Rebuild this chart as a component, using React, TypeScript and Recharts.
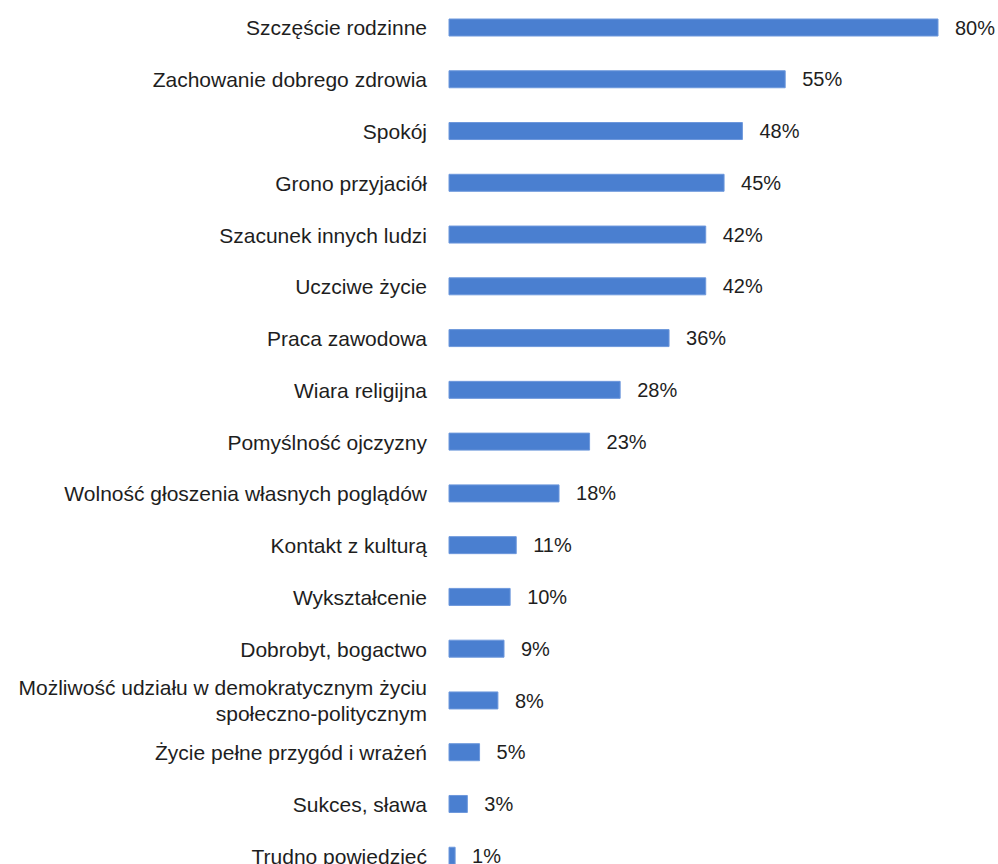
import { BarChart, Bar, XAxis, YAxis, LabelList } from "recharts"

const categories = [
  "Szczęście rodzinne",
  "Zachowanie dobrego zdrowia",
  "Spokój",
  "Grono przyjaciół",
  "Szacunek innych ludzi",
  "Uczciwe życie",
  "Praca zawodowa",
  "Wiara religijna",
  "Pomyślność ojczyzny",
  "Wolność głoszenia własnych poglądów",
  "Kontakt z kulturą",
  "Wykształcenie",
  "Dobrobyt, bogactwo",
  "Możliwość udziału w demokratycznym życiu\nspołeczno-politycznym",
  "Życie pełne przygód i wrażeń",
  "Sukces, sława",
  "Trudno powiedzieć",
]
const values = [80, 55, 48, 45, 42, 42, 36, 28, 23, 18, 11, 10, 9, 8, 5, 3, 1]

const data = categories.map((name, i) => ({ name, value: values[i] }))

const FONT = "'Liberation Sans', Arial, sans-serif"
const TEXT = "#1e1e1e"

function CategoryTick(props: any) {
  const { x, y, payload } = props
  const lines: string[] = String(payload.value).split("\n")
  const lineH = 26
  const start = -((lines.length - 1) * lineH) / 2
  return (
    <text
      x={x - 14}
      y={y}
      textAnchor="end"
      fill={TEXT}
      fontSize={21}
      fontFamily={FONT}
    >
      {lines.map((l, i) => (
        <tspan key={i} x={x - 14} y={y + start + i * lineH} dy="0.36em">
          {l}
        </tspan>
      ))}
    </text>
  )
}

export default function App() {
  return (
    <div style={{ position: "absolute", left: 0, top: 0, background: "#fff" }}>
      <BarChart
        width={998}
        height={882}
        data={data}
        layout="vertical"
        margin={{ top: 2, right: 60, left: 0, bottom: 0 }}
      >
        <XAxis type="number" domain={[0, 80]} hide />
        <YAxis
          type="category"
          dataKey="name"
          width={449}
          axisLine={false}
          tickLine={false}
          interval={0}
          tick={<CategoryTick />}
        />
        <Bar
          dataKey="value"
          fill="#4a7fd0"
          stroke="#6d98dc"
          strokeWidth={1}
          barSize={17}
          isAnimationActive={false}
        >
          <LabelList
            dataKey="value"
            position="right"
            offset={17}
            formatter={(v: any) => `${v}%`}
            fill={TEXT}
            fontSize={20}
            fontFamily={FONT}
          />
        </Bar>
      </BarChart>
    </div>
  )
}
